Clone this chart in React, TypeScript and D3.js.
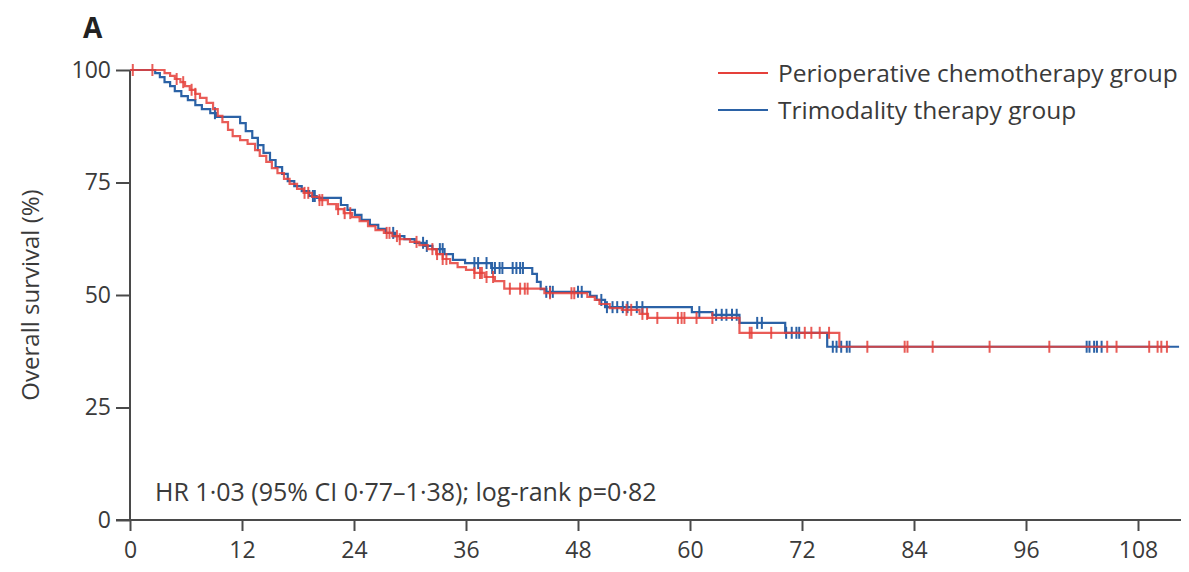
import React, { useEffect, useRef } from "react";
import * as d3 from "d3";

// Kaplan–Meier step data: [month, survival % after step]
const perioperativeSteps: [number, number][] = [
  [0, 100], [3.7, 99.3], [4.3, 98.7], [4.8, 98.0], [5.4, 97.3], [5.9, 96.4], [6.4, 95.6], [7.0, 94.7],
  [7.5, 93.8], [8.2, 92.7], [8.9, 91.3], [9.4, 89.8], [9.9, 88.4], [10.5, 86.7], [11.0, 85.3],
  [11.8, 84.4], [12.6, 83.6], [13.4, 82.2], [13.9, 80.9], [14.6, 79.6], [15.2, 78.2], [15.8, 77.1],
  [16.5, 75.8], [17.1, 74.7], [17.9, 73.6], [18.6, 72.7], [19.5, 71.8], [20.3, 71.1], [21.2, 70.2],
  [22.1, 69.1], [22.9, 68.2], [23.8, 67.3], [24.6, 66.4], [25.5, 65.3], [26.3, 64.4], [27.2, 63.8],
  [28.1, 63.1], [28.9, 62.4], [30.0, 61.8], [31.0, 61.1], [31.9, 60.2], [32.8, 59.1], [33.5, 58.0],
  [34.3, 57.1], [35.1, 56.2], [36.0, 55.6], [36.9, 54.9], [38.0, 54.0], [39.1, 53.1], [40.1, 51.4],
  [44.4, 50.4], [49.0, 49.6], [49.8, 48.9], [50.3, 48.0], [51.4, 47.1], [52.7, 46.7], [54.6, 45.8],
  [55.5, 44.9], [65.3, 41.6], [76.0, 38.5], [111.4, 38.5],
];

const trimodalitySteps: [number, number][] = [
  [0, 100], [2.7, 99.3], [3.2, 98.4], [3.7, 97.3], [4.3, 96.4], [4.8, 95.3], [5.5, 94.2], [6.2, 93.3],
  [7.0, 92.2], [7.7, 91.3], [8.6, 90.4], [9.2, 89.6], [11.8, 88.2], [12.4, 86.4], [13.1, 84.9],
  [13.7, 83.3], [14.3, 81.6], [15.0, 80.0], [15.6, 78.4], [16.3, 76.9], [16.9, 75.3], [17.6, 74.2],
  [18.4, 73.1], [19.2, 72.0], [20.0, 71.6], [22.6, 70.0], [23.3, 68.9], [24.1, 67.8], [24.8, 66.7],
  [25.7, 65.6], [26.6, 64.7], [27.4, 63.8], [28.4, 63.1], [29.4, 62.4], [30.5, 61.6], [31.6, 60.9],
  [32.4, 60.2], [33.7, 59.1], [34.6, 57.8], [35.9, 57.1], [38.7, 56.0], [43.1, 54.7], [43.6, 52.9],
  [44.0, 51.3], [44.6, 50.7], [49.3, 49.8], [50.0, 48.9], [50.9, 47.3], [60.2, 46.2], [62.4, 45.6],
  [65.3, 43.8], [70.2, 41.6], [74.7, 38.5], [112.4, 38.5],
];

const perioperativeCensors: number[] = [
  0.3, 2.4, 5.0, 5.7, 6.6, 7.0, 18.7, 19.1, 20.3, 20.6, 22.3, 23.0, 23.6, 27.5, 27.8, 28.6, 28.9,
  30.7, 32.4, 32.9, 33.5, 33.9, 36.9, 37.5, 37.7, 38.2, 38.9, 40.7, 41.8, 42.3, 42.6, 45.0, 47.3,
  47.6, 53.2, 53.7, 54.9, 55.4, 56.5, 58.7, 59.1, 59.4, 60.7, 62.4, 66.4, 66.6, 68.7, 72.3, 73.0,
  73.9, 74.9, 79.0, 83.0, 83.3, 86.0, 92.1, 98.5, 104.7, 105.7, 109.2, 110.1, 110.5, 111.1,
];

const trimodalityCensors: number[] = [
  9.1, 13.7, 19.6, 19.8, 28.2, 31.4, 31.8, 33.2, 33.5, 36.9, 37.3, 38.2, 38.8, 39.1, 39.6, 39.9,
  41.0, 41.4, 41.8, 42.1, 44.6, 45.0, 45.3, 48.0, 48.4, 50.5, 51.1, 51.7, 52.2, 52.8, 53.3, 54.3,
  54.9, 61.0, 62.8, 63.4, 63.9, 64.5, 65.0, 67.2, 67.7, 70.3, 70.9, 71.4, 71.7, 75.3, 75.7, 76.2,
  76.8, 77.1, 102.5, 102.8, 103.3, 103.6, 104.1,
];

const xTicks: number[] = [0, 12, 24, 36, 48, 60, 72, 84, 96, 108];
const yTicks: number[] = [0, 25, 50, 75, 100];

const seriesNames = ["Perioperative chemotherapy group", "Trimodality therapy group"];
const seriesColors = ["#e5403a", "#2b62a6"];
const annotation = "HR 1·03 (95% CI 0·77–1·38); log-rank p=0·82";

const W = 1189;
const H = 572;
const FONT = "'Open Sans', 'Liberation Sans', sans-serif";

function stepValue(steps: [number, number][], t: number): number {
  let v = steps[0][1];
  for (const [m, s] of steps) {
    if (m <= t) v = s;
    else break;
  }
  return v;
}

export default function App() {
  const ref = useRef<SVGSVGElement | null>(null);

  useEffect(() => {
    const svg = d3.select(ref.current);
    svg.selectAll("*").remove();

    const x = d3.scaleLinear().domain([0, 108]).range([130, 1138]);
    const y = d3.scaleLinear().domain([0, 100]).range([520, 70]);
    const axisColor = "#4a4a4a";
    const textColor = "#3a3a3a";

    // Title letter
    svg.append("text").attr("x", 83).attr("y", 38).attr("font-family", FONT)
      .attr("font-weight", "bold").attr("font-size", 28).attr("fill", "#222").text("A");

    // y axis
    const gy = svg.append("g").attr("transform", `translate(${x(0)},0)`);
    gy.call(d3.axisLeft(y).tickValues(yTicks).tickSize(14).tickPadding(5).tickFormat(d3.format("d")) as any);
    gy.select(".domain").attr("stroke", axisColor).attr("stroke-width", 2).attr("d", `M0,${y(100)}V${y(0)}`);
    gy.selectAll(".tick line").attr("stroke", axisColor).attr("stroke-width", 2);
    gy.selectAll(".tick text").attr("font-family", FONT).attr("font-size", 23).attr("fill", textColor);

    // x axis
    const gx = svg.append("g").attr("transform", `translate(0,${y(0)})`);
    gx.call(d3.axisBottom(x).tickValues(xTicks).tickSize(11).tickPadding(11).tickFormat(d3.format("d")) as any);
    gx.select(".domain").attr("stroke", axisColor).attr("stroke-width", 2).attr("d", `M${x(0) - 14},0H1181`);
    gx.selectAll(".tick line").attr("stroke", axisColor).attr("stroke-width", 2);
    gx.selectAll(".tick text").attr("font-family", FONT).attr("font-size", 23).attr("fill", textColor);

    // y label
    svg.append("text").attr("transform", `translate(39,${y(50)}) rotate(-90)`).attr("text-anchor", "middle")
      .attr("font-family", FONT).attr("font-size", 24).attr("fill", textColor).text("Overall survival (%)");

    const line = d3.line<[number, number]>().x(d => x(d[0])).y(d => y(d[1])).curve(d3.curveStepAfter);

    const series = [
      { steps: trimodalitySteps, censors: trimodalityCensors, color: seriesColors[1], op: 1 },
      { steps: perioperativeSteps, censors: perioperativeCensors, color: seriesColors[0], op: 0.85 },
    ];
    series.forEach(s => {
      svg.append("path").attr("d", line(s.steps) as string).attr("fill", "none")
        .attr("stroke", s.color).attr("stroke-width", 2.2).attr("stroke-opacity", s.op);
      svg.append("g").selectAll("line").data(s.censors).join("line")
        .attr("x1", d => x(d)).attr("x2", d => x(d))
        .attr("y1", d => y(stepValue(s.steps, d)) - 6).attr("y2", d => y(stepValue(s.steps, d)) + 6)
        .attr("stroke", s.color).attr("stroke-width", 2).attr("stroke-opacity", s.op);
    });

    // legend
    const lg = svg.append("g");
    seriesNames.forEach((name, i) => {
      const yy = 73 + i * 37;
      lg.append("line").attr("x1", 718).attr("x2", 768).attr("y1", yy).attr("y2", yy)
        .attr("stroke", seriesColors[i]).attr("stroke-width", 2);
      lg.append("text").attr("x", 778).attr("y", yy + 9).attr("font-family", FONT).attr("font-size", 24.5)
        .attr("fill", textColor).text(name);
    });

    // annotation
    svg.append("text").attr("x", 155).attr("y", 501).attr("font-family", FONT).attr("font-size", 25)
      .attr("fill", textColor).text(annotation);
  }, []);

  return (
    <svg ref={ref} width={W} height={H} style={{ position: "absolute", left: 0, top: 0, background: "#fff" }} />
  );
}
